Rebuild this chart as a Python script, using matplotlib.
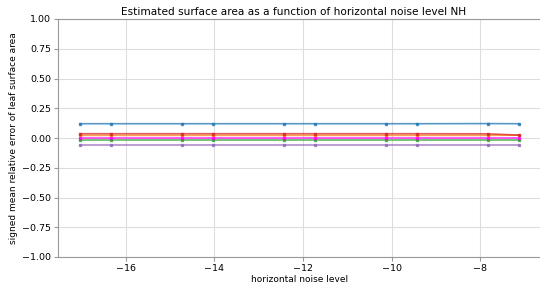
import matplotlib
matplotlib.use("Agg")
import matplotlib.pyplot as plt

# log of horizontal noise level
noise_log = [-17.03, -16.34, -14.73, -14.04, -12.43, -11.74, -10.13, -9.43, -7.82, -7.13]

err_blue = [0.120, 0.120, 0.120, 0.120, 0.120, 0.120, 0.120, 0.120, 0.121, 0.120]
err_orange = [0.022, 0.022, 0.022, 0.022, 0.022, 0.022, 0.022, 0.022, 0.022, 0.024]
err_green = [-0.014, -0.014, -0.014, -0.014, -0.014, -0.014, -0.014, -0.014, -0.014, -0.014]
err_red = [0.036, 0.036, 0.036, 0.036, 0.036, 0.036, 0.036, 0.036, 0.035, 0.024]
err_purple = [-0.056, -0.056, -0.056, -0.056, -0.056, -0.056, -0.056, -0.056, -0.056, -0.056]
err_magenta = [-0.004, -0.004, -0.004, -0.004, -0.004, -0.004, -0.004, -0.004, -0.004, -0.004]

series = [
    (err_blue, "tab:blue"),
    (err_orange, "tab:orange"),
    (err_green, "tab:green"),
    (err_red, "tab:red"),
    (err_purple, "tab:purple"),
    (err_magenta, "magenta"),
]

fig = plt.figure(figsize=(5.4, 2.86), dpi=100)
# axes run past the right edge of the picture, as in the original
ax = fig.add_axes([58 / 540, 1 - 257 / 286, 502 / 540, 238 / 286])

for vals, col in series:
    ax.plot(noise_log, vals, color=col, marker="s", markersize=1.8, linewidth=1.2, alpha=0.75)

ax.set_xlim(-17.53, -6.2)
ax.set_ylim(-1, 1)
ax.set_yticks([-1, -0.75, -0.5, -0.25, 0, 0.25, 0.5, 0.75, 1])
ax.set_yticklabels([f"{v:.2f}".replace("-", "\u2212") for v in ax.get_yticks()])
ax.grid(True, color="#dddddd", linewidth=0.8)
ax.set_axisbelow(True)
for s in ["left", "top", "bottom"]:
    ax.spines[s].set_color("#999999")
ax.spines["right"].set_visible(False)
ax.tick_params(colors="#999999", labelcolor="black", labelsize=6.8, length=3, width=0.8, pad=2)

ax.set_title("Estimated surface area as a function of horizontal noise level NH",
             fontsize=7.6, pad=3, x=(293.5 - 58) / 502)
ax.set_xlabel("horizontal noise level", fontsize=6.5, labelpad=1.5)
ax.xaxis.label.set_x((300 - 58) / 502)
ax.set_ylabel("signed mean relative error of leaf surface area", fontsize=6.5, labelpad=3)

fig.savefig("out.png", dpi=100)
